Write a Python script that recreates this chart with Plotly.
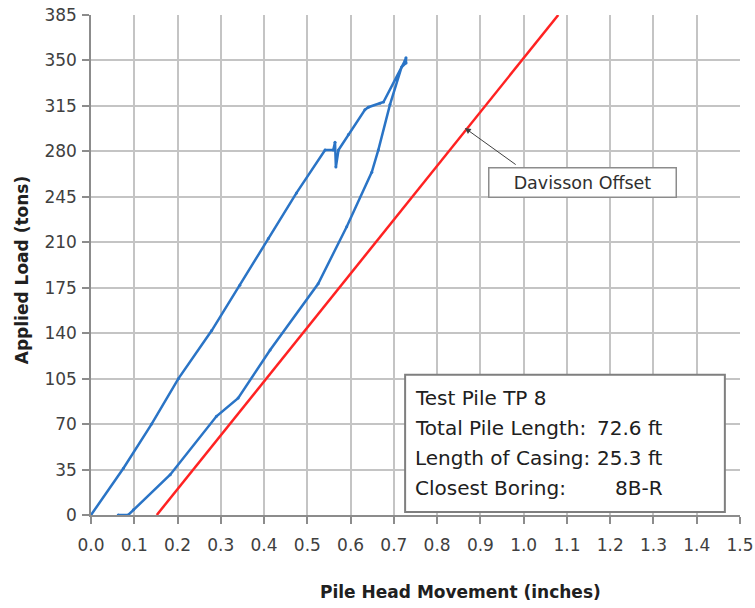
import plotly.graph_objects as go

# Load test curve (loading then unloading)
movement_in = [0.0, 0.075, 0.14, 0.202, 0.279, 0.344, 0.41, 0.475, 0.541, 0.56, 0.564, 0.566,
               0.572, 0.595, 0.633, 0.641, 0.668, 0.676, 0.726, 0.728,
               0.728, 0.718, 0.691, 0.664, 0.649, 0.591, 0.525, 0.414, 0.34, 0.29, 0.183,
               0.098, 0.086, 0.063]
load_tons = [0, 36, 70, 105, 142, 177, 213, 248, 281, 281, 287, 268,
             281, 293, 312, 314, 317, 318, 350, 352,
             348, 345, 316, 281, 264, 222, 178, 127, 90, 76, 31,
             4, 0, 0]

# Davisson offset line
davisson_x = [0.152, 1.08]
davisson_y = [0, 385]

x_ticks = [round(i * 0.1, 1) for i in range(16)]
y_ticks = list(range(0, 386, 35))

info_labels = ["Test Pile TP 8", "Total Pile Length:", "Length of Casing:", "Closest Boring:"]
info_values = ["", "72.6 ft", "25.3 ft", "8B-R"]

FONT = "DejaVu Sans"

fig = go.Figure()
fig.add_trace(go.Scatter(x=movement_in, y=load_tons, mode="lines+markers",
                         line=dict(color="#2a74c6", width=2.5),
                         marker=dict(size=3, color="#2a74c6"),
                         showlegend=False))
fig.add_trace(go.Scatter(x=davisson_x, y=davisson_y, mode="lines",
                         line=dict(color="#ff2222", width=2.5),
                         showlegend=False))

axis_common = dict(showgrid=True, gridcolor="#c4c4c4", gridwidth=1.5,
                   showline=True, linecolor="#8c8c8c", linewidth=1.5,
                   ticks="outside", ticklen=7, tickcolor="#8c8c8c", tickwidth=1.5,
                   tickfont=dict(family=FONT, size=17, color="#404040"),
                   zeroline=False, automargin=False, ticklabeloverflow="allow")

fig.update_xaxes(range=[0, 1.5], tickvals=x_ticks, tickformat=".1f",
                 ticklabelstandoff=7, **axis_common)
fig.update_yaxes(range=[0, 385], tickvals=y_ticks, ticklabelstandoff=2, **axis_common)

annotations = []
# axis titles
annotations.append(dict(text="<b>Pile Head Movement (inches)</b>", xref="paper", yref="paper",
                        x=0.57, y=-0.154, xanchor="center", yanchor="middle", showarrow=False,
                        font=dict(family=FONT, size=17, color="#202020")))
annotations.append(dict(text="<b>Applied Load (tons)</b>", xref="paper", yref="paper",
                        x=-0.106, y=0.49, xanchor="center", yanchor="middle", showarrow=False,
                        textangle=-90, font=dict(family=FONT, size=17, color="#202020")))
# Davisson label and arrow
annotations.append(dict(text="Davisson Offset", x=1.137, y=256, xref="x", yref="y",
                        showarrow=False, bgcolor="white", bordercolor="#8c8c8c", borderwidth=1.5,
                        borderpad=4, width=178,
                        font=dict(family=FONT, size=17.5, color="#303030")))
annotations.append(dict(text="", x=0.864, y=298, ax=0.985, ay=269, xref="x", yref="y",
                        axref="x", ayref="y", showarrow=True, arrowhead=2, arrowsize=1.2,
                        arrowwidth=1, arrowcolor="#404040"))
# info box text
line_y = [90, 67, 44, 21]
for lab, val, yy in zip(info_labels, info_values, line_y):
    annotations.append(dict(text=lab, x=0.744, y=yy, xref="x", yref="y", xanchor="left",
                            yanchor="middle", showarrow=False,
                            font=dict(family=FONT, size=20, color="#202020")))
    if val:
        annotations.append(dict(text=val, x=1.327, y=yy, xref="x", yref="y", xanchor="right",
                                yanchor="middle", showarrow=False,
                                font=dict(family=FONT, size=20, color="#202020")))

fig.update_layout(
    width=755, height=608,
    margin=dict(l=91, r=15, t=15, b=93, autoexpand=False),
    plot_bgcolor="white", paper_bgcolor="white",
    annotations=annotations,
    shapes=[dict(type="rect", xref="x", yref="y", x0=0.726, x1=1.465, y0=2.3, y1=108,
                 line=dict(color="#7f7f7f", width=2), fillcolor="white", layer="above")],
)
fig.write_html("out.html", config={"displayModeBar": False},
               post_script="document.body.style.margin='0';document.body.style.overflow='hidden';")
